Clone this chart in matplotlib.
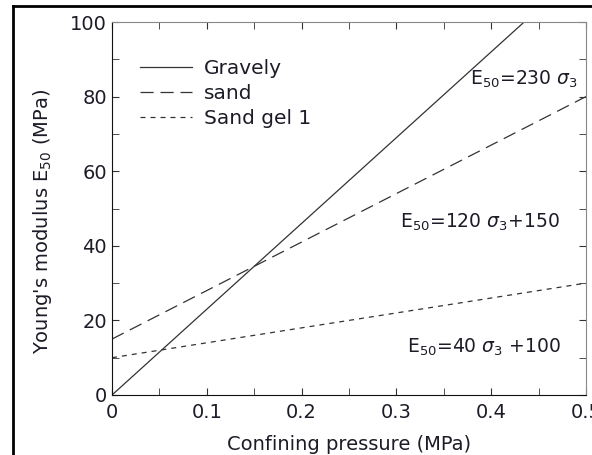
import matplotlib
matplotlib.use("Agg")
import matplotlib.pyplot as plt
from matplotlib.lines import Line2D
from matplotlib.ticker import MultipleLocator

plt.rcParams["font.family"] = ["DejaVu Sans"]
plt.rcParams["mathtext.fontset"] = "dejavusans"

# confining pressure (MPa) and modulus E50 (MPa)
pressure = [0.0, 0.5]
gravely = [0.0, 115.0]
sand = [15.0, 80.0]
sand_gel = [10.0, 30.0]
labels = ["Gravely", "sand", "Sand gel 1"]
xticks = [0.0, 0.1, 0.2, 0.3, 0.4, 0.5]
xtick_labels = ["0", "0.1", "0.2", "0.3", "0.4", "0.5"]
equations = [r"E$_{50}$=230 $\sigma_3$",
             r"E$_{50}$=120 $\sigma_3$+150",
             r"E$_{50}$=40 $\sigma_3$ +100"]
eq_pos = [(0.378, 84.5), (0.304, 46.4), (0.311, 12.9)]

txt = "#1c1c28"
fig = plt.figure(figsize=(5.92, 4.55), dpi=100)
ax = fig.add_axes([112 / 592, 60 / 455, 474 / 592, 373 / 455])

ax.plot(pressure, gravely, color="#333333", lw=0.9, ls="-", label=labels[0])
ax.plot(pressure, sand, color="#333333", lw=0.9, ls=(0, (10.5, 5.5)), label=labels[1])
ax.plot(pressure, sand_gel, color="#333333", lw=0.9, ls=(0, (4, 4)), label=labels[2])

ax.set_xlim(0, 0.5)
ax.set_ylim(0, 100)
ax.set_xticks(xticks, xtick_labels)
ax.xaxis.set_minor_locator(MultipleLocator(0.05))
ax.yaxis.set_major_locator(MultipleLocator(20))
ax.yaxis.set_minor_locator(MultipleLocator(10))
ax.tick_params(which="both", direction="in", top=True, right=True,
               labelsize=14, colors="#333333", labelcolor=txt, length=5)
ax.tick_params(axis="x", pad=6)
for s in ["top", "right"]:
    ax.spines[s].set_color("#888888")
for s in ["left", "bottom"]:
    ax.spines[s].set_color("#111111")

ax.set_xlabel("Confining pressure (MPa)", fontsize=14, color=txt, labelpad=9)
ax.set_ylabel("Young's modulus E$_{50}$ (MPa)", fontsize=14, color=txt)
ax.yaxis.set_label_coords(-0.122, 0.466)

for eq, (x, y) in zip(equations, eq_pos):
    ax.text(x, y, eq, fontsize=13.5, color=txt, va="center", ha="left")

ax.legend(frameon=False, loc="upper left", bbox_to_anchor=(0.02, 0.95),
          fontsize=14.5, handlelength=2.6, handletextpad=0.6, labelspacing=0.3,
          labelcolor=txt)

# outer frame (top and left edges only, as in the cropped source)
fig.add_artist(Line2D([13 / 592, 1.0], [1 - 6 / 455, 1 - 6 / 455], color="black", lw=2,
                      transform=fig.transFigure))
fig.add_artist(Line2D([13 / 592, 13 / 592], [0.0, 1 - 6 / 455], color="black", lw=2,
                      transform=fig.transFigure))

fig.savefig("out.png", dpi=100)
